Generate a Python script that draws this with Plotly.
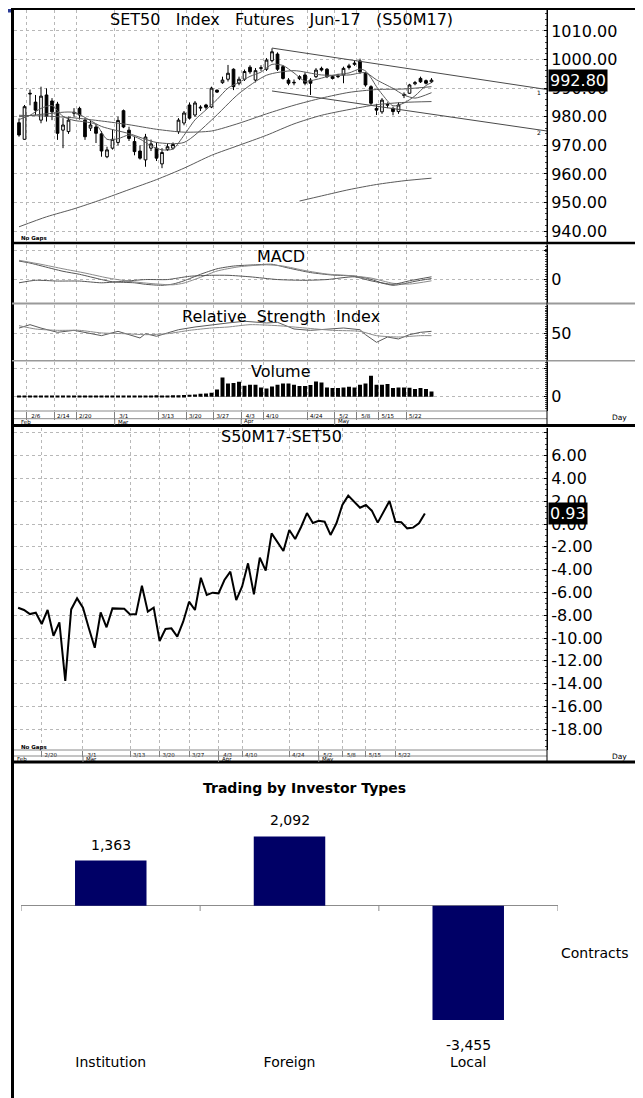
import plotly.graph_objects as go

# the page body adds an 8px margin, so the figure is drawn 8px in from the top-left
OX, OY = 8, 8
W, H = 643 - OX, 1098 - OY
FONT = "DejaVu Sans"
GRID = "#b8b8b8"
LINE = "#5a5a5a"


def fx(px):
    return (px - OX) / W


def fy(py):
    return 1 - (py - OY) / H


# ---------------- data ----------------
dates = ["2/3", "2/6", "2/7", "2/8", "2/9", "2/10", "2/14", "2/15", "2/16", "2/17",
         "2/20", "2/21", "2/22", "2/23", "2/24", "2/27", "2/28",
         "3/1", "3/2", "3/3", "3/6", "3/7", "3/8", "3/9", "3/10", "3/13", "3/14",
         "3/15", "3/16", "3/17", "3/20", "3/21", "3/22", "3/23", "3/24", "3/27",
         "3/28", "3/29", "3/30", "3/31",
         "4/3", "4/4", "4/5", "4/7", "4/10", "4/11", "4/12", "4/17", "4/18", "4/19",
         "4/20", "4/21", "4/24", "4/25", "4/26", "4/27", "4/28",
         "5/2", "5/3", "5/4", "5/5", "5/8", "5/9", "5/11", "5/12", "5/15", "5/16",
         "5/17", "5/18", "5/19", "5/22", "5/23", "5/24", "5/25", "5/26", "5/29"]

opens = [977.9, 972.1, 988.2, 985.1, 978.8, 987.6, 985.5, 984.4, 975.3, 974.8,
         981.2, 982.9, 978.8, 976.0, 976.4, 974.0, 966.0, 969.0, 971.0, 982.1,
         975.3, 971.3, 968.0, 964.9, 969.0, 969.0, 963.5, 968.5, 969.0, 974.8,
         977.8, 984.1, 980.6, 983.0, 984.1, 983.4, 989.3, 991.9, 993.1, 996.6,
         991.7, 993.1, 997.3, 992.8, 996.9, 996.6, 999.6, 1001.9, 997.5, 992.8,
         991.8, 994.0, 994.6, 992.8, 994.0, 996.9, 996.6, 994.0, 994.0, 994.6,
         997.2, 998.3, 999.5, 995.2, 990.5, 982.9, 981.7, 984.0, 982.9, 981.8,
         987.4, 988.2, 991.5, 993.4, 992.6, 992.2]
highs = [979.4, 984.1, 989.5, 987.6, 990.5, 989.9, 986.5, 985.2, 979.5, 980.0,
         983.0, 983.5, 979.5, 978.5, 977.4, 975.0, 969.5, 975.5, 980.0, 982.5,
         976.5, 973.0, 970.0, 974.0, 972.0, 971.0, 969.0, 970.5, 971.0, 979.5,
         982.0, 985.0, 985.5, 984.0, 984.5, 990.5, 989.5, 994.0, 998.1, 996.9,
         994.0, 996.5, 998.0, 997.0, 998.0, 1000.5, 1003.9, 1002.5, 998.0, 993.5,
         993.0, 994.5, 995.5, 993.5, 997.0, 997.5, 997.0, 994.5, 995.0, 997.5,
         998.5, 999.5, 1000.3, 995.7, 991.0, 984.5, 986.5, 985.0, 983.5, 985.0,
         988.5, 991.5, 992.5, 994.0, 993.0, 993.5]
lows = [973.0, 971.9, 984.0, 980.6, 977.7, 978.3, 978.8, 971.9, 969.0, 974.0,
        980.0, 979.0, 971.9, 975.0, 970.8, 966.0, 965.5, 968.5, 970.0, 976.0,
        971.5, 966.5, 965.0, 962.5, 968.0, 964.5, 962.0, 968.0, 968.5, 974.0,
        977.0, 979.0, 980.0, 982.0, 982.5, 983.0, 988.3, 991.5, 992.3, 989.3,
        991.0, 992.5, 995.0, 992.0, 996.0, 996.0, 999.0, 996.0, 993.0, 991.0,
        991.0, 992.8, 991.0, 987.6, 993.5, 995.8, 993.5, 993.0, 993.5, 991.7,
        996.5, 997.8, 995.0, 990.5, 984.0, 980.6, 981.0, 983.0, 980.5, 981.0,
        986.5, 988.0, 991.0, 991.8, 991.3, 991.8]
closes = [973.6, 983.5, 988.0, 982.3, 987.2, 980.2, 981.7, 974.2, 977.1, 978.8,
          981.5, 980.6, 973.0, 977.1, 974.2, 968.0, 968.4, 972.1, 978.7, 976.4,
          972.4, 967.8, 965.5, 972.9, 970.5, 965.5, 967.5, 969.5, 970.3, 978.8,
          981.3, 979.5, 984.8, 983.3, 983.3, 990.0, 988.6, 992.8, 995.2, 990.5,
          993.1, 995.8, 995.7, 996.1, 997.1, 999.8, 1002.7, 996.6, 993.4, 991.7,
          992.0, 993.3, 991.7, 991.7, 996.3, 996.3, 994.0, 993.4, 994.2, 996.9,
          997.8, 998.7, 995.7, 991.1, 984.7, 982.3, 985.8, 984.3, 981.8, 984.1,
          987.8, 991.1, 991.9, 992.2, 991.7, 992.8]

# moving averages (day index -> value)
ma5_idx = [0, 2, 4, 6, 8, 10, 12, 14, 16, 18, 20, 22, 24, 26, 28, 30, 32, 34, 36, 38,
           40, 42, 44, 46, 48, 50, 52, 54, 56, 58, 60, 62, 63, 64, 65, 66, 68, 70, 72, 74, 75]
ma5_val = [979.0, 980.5, 982.9, 983.9, 980.1, 978.7, 978.2, 977.3, 972.1, 972.3,
           973.6, 972.2, 969.8, 968.4, 968.7, 973.5, 978.9, 982.4, 986.0, 990.0,
           992.0, 994.1, 995.6, 998.3, 997.9, 995.3, 992.4, 993.0, 994.0, 994.8,
           995.3, 996.7, 996.0, 993.6, 990.5, 987.9, 983.8, 984.8, 987.3, 990.9, 991.9]
ma10_idx = [0, 5, 10, 15, 20, 25, 30, 35, 40, 45, 50, 55, 60, 63, 65, 68, 70, 72, 75]
ma10_val = [980.0, 981.0, 981.5, 976.6, 974.1, 971.0, 971.0, 978.8, 988.1, 994.5,
            996.1, 994.6, 994.6, 995.4, 992.9, 989.9, 987.6, 986.5, 988.4]
ma25_idx = [0, 5, 10, 15, 20, 25, 30, 35, 40, 45, 50, 55, 60, 65, 70, 75]
ma25_val = [980.5, 980.2, 979.6, 978.5, 977.2, 975.6, 974.6, 975.0, 977.7, 981.0,
            984.0, 986.5, 988.5, 989.5, 989.7, 990.5]
ma75_idx = [0, 5, 10, 15, 20, 25, 30, 35, 40, 45, 50, 55, 60, 65, 70, 75]
ma75_val = [941.5, 945.0, 947.8, 951.0, 954.5, 958.0, 962.0, 966.5, 970.0, 973.5,
            977.5, 980.5, 982.5, 984.2, 985.0, 985.3]
ma200_idx = [51, 55, 60, 65, 70, 75]
ma200_val = [950.5, 952.3, 954.5, 956.3, 957.6, 958.5]

trend1_idx = [46, 96]
trend1_val = [1004.0, 989.5]
trend2_idx = [46, 96]
trend2_val = [989.0, 975.0]

macd_idx = [0, 2, 4, 8, 11, 15, 17, 21, 23, 26, 28, 30, 33, 36, 39, 43, 46, 49, 53,
            57, 61, 64, 66, 68, 70, 72, 75]
macd_val = [7.3, 6.5, 5.4, 3.2, 2.0, -0.1, -1.0, -1.4, -2.0, -2.4, -1.9, -0.6, 2.0,
            4.2, 5.3, 5.8, 6.0, 4.5, 2.7, 1.7, 1.3, 0.0, -1.5, -2.4, -1.8, -0.8, 0.3]
signal_idx = [0, 4, 8, 12, 16, 20, 24, 28, 30, 33, 36, 40, 45, 48, 52, 56, 60, 64, 68, 71, 75]
signal_val = [7.6, 6.0, 4.2, 2.5, 0.6, -0.8, -1.7, -2.2, -1.5, 0.8, 3.3, 5.0, 5.8,
              5.3, 3.5, 2.1, 1.5, 0.5, -1.6, -1.9, -0.6]
osc_idx = [0, 3, 7, 11, 15, 19, 23, 27, 31, 35, 38, 42, 47, 52, 56, 61, 64, 68, 71, 75]
osc_val = [-1.4, -0.4, -0.7, -0.7, -1.4, -0.8, -0.1, -0.1, 1.2, 1.6, 1.6, 1.0, -0.1,
           -0.4, -0.1, 1.0, -0.6, -2.0, -0.6, 1.0]

rsi_idx = [0, 2, 4, 7, 10, 12, 15, 18, 20, 22, 23, 25, 27, 29, 32, 35, 38, 41, 45, 47,
           50, 53, 56, 59, 62, 63, 65, 67, 69, 71, 73, 75]
rsi_val = [56.0, 59.8, 56.0, 51.3, 53.5, 51.3, 47.6, 52.4, 48.7, 45.0, 49.8, 46.9,
           50.6, 54.2, 57.2, 59.8, 61.7, 63.6, 61.7, 62.4, 55.0, 53.5, 55.0, 56.1,
           54.2, 48.7, 40.2, 46.1, 43.9, 48.7, 51.3, 52.4]
rsi_avg_idx = [0, 3, 7, 11, 15, 19, 23, 27, 31, 35, 38, 42, 47, 52, 57, 62, 65, 69, 73, 75]
rsi_avg_val = [58.7, 55.0, 53.5, 53.5, 50.6, 49.8, 48.7, 49.8, 53.5, 56.1, 57.2,
               59.8, 58.7, 56.1, 53.5, 52.4, 47.6, 46.1, 47.6, 47.6]

volume = [9000, 10000, 8000, 9000, 10000, 9000, 12000, 13000, 11000, 12000,
          10000, 9000, 10000, 11000, 10000, 9000, 10000, 11000, 12000, 10000,
          11000, 12000, 11000, 13000, 12000, 14000, 13000, 12000, 14000,
          15000, 17000, 20000, 23000, 30000, 33000, 40000, 73000,
          193000, 133000, 137000, 150000, 110000, 120000, 120000, 93000, 83000, 103000,
          120000, 133000, 133000, 120000, 107000, 107000, 117000, 153000, 143000, 93000,
          87000, 87000, 93000, 100000, 93000, 120000, 133000, 210000, 120000, 120000,
          127000, 87000, 93000, 93000, 90000, 77000, 87000, 77000, 53000]

basis_start = 6  # first basis value is on 2/14
basis_vals = [-7.34, -7.54, -7.90, -7.78, -8.77, -7.54, -9.80, -8.63, -13.77, -7.49,
              -6.52, -7.34, -9.15, -10.85, -7.75, -9.06, -7.40, -7.43, -7.43, -7.93,
              -7.90, -5.41, -7.69, -7.34, -10.26, -9.21, -9.15, -9.88, -8.57, -6.81,
              -7.54, -4.71, -6.23, -6.02, -6.08, -4.91, -4.18, -6.67, -5.47, -3.45,
              -6.17, -2.95, -4.09, -0.82, -1.55, -2.37, -0.53, -1.32, -0.26, 0.96,
              0.09, 0.29, 0.20, -0.96, 0.06, 1.67, 2.49, 1.96, 1.43, 1.67,
              1.17, 0.12, 1.14, 2.02, 0.20, 0.15, -0.38, -0.32, 0.06, 0.93]

top_tick_dates = ["2/6", "2/14", "2/20", "3/1", "3/13", "3/20", "3/27", "4/3", "4/10",
                  "4/24", "5/2", "5/8", "5/15", "5/22"]
basis_tick_dates = ["2/20", "3/1", "3/13", "3/20", "3/27", "4/3", "4/10", "4/24",
                    "5/2", "5/8", "5/15", "5/22"]
month_starts = ["3/1", "4/3", "5/2"]
month_names = ["Feb", "Mar", "Apr", "May"]

price_ticks = [940, 950, 960, 970, 980, 990, 1000, 1010]
basis_ticks = [-18, -16, -14, -12, -10, -8, -6, -4, -2, 0, 2, 4, 6, 8]

investor_types = ["Institution", "Foreign", "Local"]
net_contracts = [1363, 2092, -3455]

# ---------------- figure ----------------
idx = list(range(len(dates)))
fig = go.Figure()

fig.add_trace(go.Candlestick(
    x=idx, open=opens, high=highs, low=lows, close=closes, xaxis="x", yaxis="y",
    increasing=dict(line=dict(color="black", width=1), fillcolor="white"),
    decreasing=dict(line=dict(color="black", width=1), fillcolor="black"),
    whiskerwidth=0, showlegend=False, hoverinfo="skip"))

for xs, ys in [(ma5_idx, ma5_val), (ma10_idx, ma10_val), (ma25_idx, ma25_val),
               (ma75_idx, ma75_val), (ma200_idx, ma200_val)]:
    fig.add_trace(go.Scatter(x=xs, y=ys, mode="lines", xaxis="x", yaxis="y",
                             line=dict(color=LINE, width=1, shape="spline", smoothing=0.7),
                             showlegend=False, hoverinfo="skip"))
for xs, ys in [(trend1_idx, trend1_val), (trend2_idx, trend2_val)]:
    fig.add_trace(go.Scatter(x=xs, y=ys, mode="lines", xaxis="x", yaxis="y",
                             line=dict(color="#4a4a4a", width=1), showlegend=False,
                             hoverinfo="skip"))

for xs, ys, c in [(macd_idx, macd_val, "#555555"), (signal_idx, signal_val, "#8a8a8a"),
                  (osc_idx, osc_val, "#555555")]:
    fig.add_trace(go.Scatter(x=xs, y=ys, mode="lines", xaxis="x2", yaxis="y2",
                             line=dict(color=c, width=1, shape="spline", smoothing=0.6),
                             showlegend=False, hoverinfo="skip"))

fig.add_trace(go.Scatter(x=rsi_idx, y=rsi_val, mode="lines", xaxis="x3", yaxis="y3",
                         line=dict(color="#5a5a5a", width=1), showlegend=False, hoverinfo="skip"))
fig.add_trace(go.Scatter(x=rsi_avg_idx, y=rsi_avg_val, mode="lines", xaxis="x3", yaxis="y3",
                         line=dict(color="#8a8a8a", width=1, shape="spline", smoothing=0.6),
                         showlegend=False, hoverinfo="skip"))

fig.add_trace(go.Bar(x=idx, y=volume, xaxis="x4", yaxis="y4", width=0.72,
                     marker=dict(color="black", line=dict(width=0)), showlegend=False,
                     hoverinfo="skip"))

basis_idx = list(range(basis_start, basis_start + len(basis_vals)))
fig.add_trace(go.Scatter(x=basis_idx, y=basis_vals, mode="lines", xaxis="x5", yaxis="y5",
                         line=dict(color="black", width=2), showlegend=False, hoverinfo="skip"))

fig.add_trace(go.Bar(x=investor_types, y=net_contracts, xaxis="x6", yaxis="y6", width=0.4,
                     marker=dict(color="#000066", line=dict(width=0)),
                     showlegend=False, hoverinfo="skip"))

# ---------------- axes ----------------
top_tickvals = [dates.index(d) + 0.4 for d in top_tick_dates]
basis_tickvals = [dates.index(d) for d in basis_tick_dates]
XDOM = [fx(14), fx(547)]


def top_x(anchor, labels=False):
    d = dict(domain=XDOM, range=[-0.91, 96.0], anchor=anchor, tickvals=top_tickvals,
             showgrid=True, gridcolor=GRID, griddash="dot", gridwidth=1,
             zeroline=False, showline=False, fixedrange=True)
    if labels:
        d.update(ticktext=top_tick_dates, showticklabels=True, ticks="outside", ticklen=8,
                 tickcolor="#808080", tickwidth=1,
                 tickfont=dict(family=FONT, size=5.5, color="black"),
                 ticklabelstandoff=-9, ticklabelshift=9)
    else:
        d.update(showticklabels=False, ticks="")
    return d


def right_y(anchor, dom, rng, tickvals, ticktext, minor_dtick):
    return dict(domain=dom, range=rng, anchor=anchor, side="right", tickvals=tickvals,
                ticktext=ticktext, showline=True, linecolor="black", linewidth=1,
                ticks="inside", ticklen=3, tickcolor="black",
                minor=dict(ticks="inside", ticklen=2, tickcolor="#444", dtick=minor_dtick,
                           showgrid=False),
                tickfont=dict(family=FONT, size=16, color="black"),
                showgrid=True, gridcolor=GRID, griddash="dot", gridwidth=1,
                zeroline=False, fixedrange=True)


xa = top_x("y")
xa["rangeslider"] = dict(visible=False)

layout = dict(
    width=W, height=H, margin=dict(l=0, r=0, t=0, b=0),
    paper_bgcolor="white", plot_bgcolor="white", showlegend=False,
    font=dict(family=FONT, color="black"),
    xaxis=xa,
    yaxis=right_y("x", [fy(242), fy(10)], [936.19, 1017.31], price_ticks,
                  [f"{v:.2f}" for v in price_ticks], 2),
    xaxis2=top_x("y2"),
    yaxis2=right_y("x2", [fy(302.5), fy(244.5)], [-9.28, 13.92], [0, 11.7], ["0", ""], 1),
    xaxis3=top_x("y3"),
    yaxis3=right_y("x3", [fy(360), fy(304.5)], [20.56, 82.2], [50], ["50"], 2),
    xaxis4=top_x("y4", labels=True),
    yaxis4=right_y("x4", [fy(411), fy(361.5)], [-143000, 352000], [0, 284000], ["0", ""], 20000),
    xaxis5=dict(domain=XDOM, range=[5.30, 95.72], anchor="y5", tickvals=basis_tickvals,
                ticktext=basis_tick_dates, showticklabels=True, ticks="outside", ticklen=6,
                tickcolor="#808080", tickfont=dict(family=FONT, size=5.5, color="black"),
                ticklabelstandoff=-7, ticklabelshift=9,
                showgrid=True, gridcolor=GRID, griddash="dot", zeroline=False,
                showline=False, fixedrange=True),
    yaxis5=right_y("x5", [fy(750), fy(428)], [-19.82, 8.42], basis_ticks,
                   [f"{v:.2f}" if v < 8 else "" for v in basis_ticks], 0.5),
    xaxis6=dict(domain=[fx(21.4), fx(557.6)], range=[-0.5, 2.5], anchor="y6",
                type="category", showline=False, ticks="", showgrid=False, zeroline=False,
                tickfont=dict(family=FONT, size=14, color="black"), fixedrange=True),
    yaxis6=dict(domain=[fy(1052), fy(812)], range=[-4420, 2831], anchor="x6",
                showticklabels=False, showgrid=False, showline=False, zeroline=True,
                zerolinecolor="#8c8c8c", zerolinewidth=1, fixedrange=True),
)

# ---------------- decorations ----------------
shapes = []


def pline(x0, y0, x1, y1, color="black", width=1):
    shapes.append(dict(type="line", xref="paper", yref="paper", x0=fx(x0), y0=fy(y0),
                       x1=fx(x1), y1=fy(y1), line=dict(color=color, width=width)))


# blue mark top-left
shapes.append(dict(type="rect", xref="paper", yref="paper", x0=fx(OX), x1=fx(12),
                   y0=fy(12.5), y1=fy(9), fillcolor="#2a3a96", line=dict(width=0)))
pline(12, 8.8, 638, 8.8, "black", 2.5)           # top border
pline(12.5, 8, 12.5, 1100, "black", 3)           # left border
pline(636.5, 8, 636.5, 1100, "black", 3)         # right border
pline(12, 243, 637, 243, "black", 2.5)
pline(12, 303.5, 637, 303.5, "#9a9a9a", 2)
pline(12, 360.8, 637, 360.8, "#9a9a9a", 1.5)
pline(12, 425.5, 637, 425.5, "black", 3)
pline(12, 762, 637, 762, "black", 3)
pline(14, 411, 547, 411, "#8a8a8a", 1)
pline(14, 418.7, 547, 418.7, "#8a8a8a", 1)
pline(14, 750, 547, 750, "#8a8a8a", 1)
pline(14, 756, 547, 756, "#8a8a8a", 1)
pline(547, 10, 547, 425, "black", 1)
pline(547, 428, 547, 762, "black", 1)

for m in month_starts:
    shapes.append(dict(type="line", xref="x4", yref="paper", x0=dates.index(m) + 0.4,
                       x1=dates.index(m) + 0.4, y0=fy(418.7), y1=fy(425),
                       line=dict(color="#808080", width=1)))
    shapes.append(dict(type="line", xref="x5", yref="paper", x0=dates.index(m),
                       x1=dates.index(m), y0=fy(756), y1=fy(762),
                       line=dict(color="#808080", width=1)))

for b in [-0.5, 0.5, 1.5, 2.5]:
    shapes.append(dict(type="line", xref="x6", yref="y6", x0=b, x1=b, y0=0, y1=-160,
                       line=dict(color="#8c8c8c", width=1)))

layout["shapes"] = shapes

ann = []


def ptext(x, y, text, size, xanchor="center", color="black"):
    ann.append(dict(xref="paper", yref="paper", x=fx(x), y=fy(y), text=text,
                    showarrow=False, xanchor=xanchor, yanchor="middle",
                    font=dict(family=FONT, size=size, color=color)))


NB = "\u00a0"
ptext(281, 19, f"SET50{NB*3}Index{NB*3}Futures{NB*3}Jun-17{NB*3}(S50M17)", 16)
ptext(281, 256, "MACD", 16)
ptext(281, 316, f"Relative{NB*2}Strength{NB*2}Index", 16)
ptext(281, 371.5, "Volume", 16)
ptext(281, 436, "S50M17-SET50", 16)
ptext(19, 238, "<b>No Gaps</b>", 5.5, "left")
ptext(19, 747, "<b>No Gaps</b>", 5.5, "left")
ptext(619, 418, "Day", 7.5)
ptext(619, 756, "Day", 7.5)
ptext(539, 92, "1", 6)
ptext(539, 133, "2", 6)
ptext(304, 788, "<b>Trading by Investor Types</b>", 14)
ptext(595, 953, "Contracts", 14)

# month labels for both date strips
ann.append(dict(xref="x4", yref="paper", x=0, y=fy(421.8), text=month_names[0],
                showarrow=False, xanchor="left", yanchor="middle",
                font=dict(family=FONT, size=5.5)))
ann.append(dict(xref="x5", yref="paper", x=5.4, y=fy(759.3), text=month_names[0],
                showarrow=False, xanchor="left", yanchor="middle",
                font=dict(family=FONT, size=5.5)))
for m, name in zip(month_starts, month_names[1:]):
    ann.append(dict(xref="x4", yref="paper", x=dates.index(m) + 0.4, y=fy(421.8), text=name,
                    showarrow=False, xanchor="left", yanchor="middle", xshift=1,
                    font=dict(family=FONT, size=5.5)))
    ann.append(dict(xref="x5", yref="paper", x=dates.index(m), y=fy(759.3), text=name,
                    showarrow=False, xanchor="left", yanchor="middle", xshift=1,
                    font=dict(family=FONT, size=5.5)))

# value labels of the investor bars
for cat, v in zip(investor_types, net_contracts):
    ann.append(dict(xref="x6", yref="y6", x=cat, y=v, text=f"{v:,}", showarrow=False,
                    xanchor="center", yanchor="bottom" if v >= 0 else "top",
                    yshift=6 if v >= 0 else -15,
                    font=dict(family=FONT, size=14, color="black")))

# last-value boxes
ann.append(dict(xref="paper", yref="y", x=fx(548), y=closes[-1], text=f"{closes[-1]:.2f}",
                showarrow=False, xanchor="left", yanchor="middle", bgcolor="black",
                borderpad=1, font=dict(family=FONT, size=16, color="white")))
ann.append(dict(xref="paper", yref="y5", x=fx(548), y=basis_vals[-1],
                text=f"{basis_vals[-1]:.2f}", showarrow=False, xanchor="left",
                yanchor="middle", bgcolor="black", borderpad=1,
                font=dict(family=FONT, size=16, color="white")))

layout["annotations"] = ann
fig.update_layout(**layout)
fig.write_html("out.html")
